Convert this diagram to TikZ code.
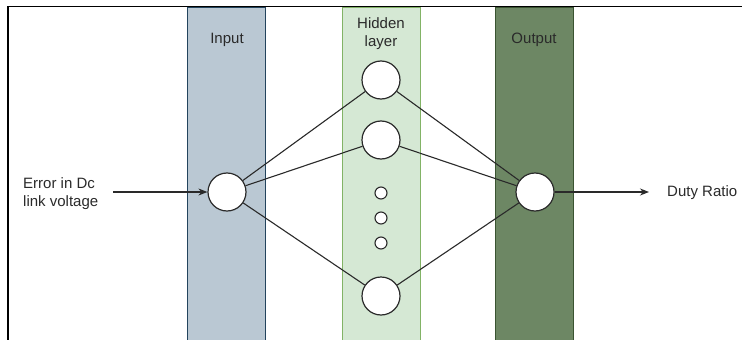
\documentclass[tikz,border=0pt]{standalone}
\usepackage{fontspec}
\setmainfont{Liberation Sans}
\usetikzlibrary{arrows.meta}
\definecolor{inFill}{HTML}{BAC8D3}
\definecolor{inLine}{HTML}{23445D}
\definecolor{hidFill}{HTML}{D5E8D4}
\definecolor{hidLine}{HTML}{82B366}
\definecolor{outFill}{HTML}{6D8764}
\definecolor{outLine}{HTML}{3A5431}
\definecolor{ink}{HTML}{2A2A2A}
\tikzset{
  band/.style={rectangle, minimum width=78pt, minimum height=333pt, inner sep=0pt, line width=0.8pt},
  neuron/.style={circle, draw=ink, fill=white, line width=1.2pt, minimum size=38pt, inner sep=0pt},
  dotneuron/.style={circle, draw=ink, fill=white, line width=1.1pt, minimum size=12pt, inner sep=0pt},
  link/.style={draw=ink, line width=1.1pt},
  arr/.style={draw=ink, line width=1.1pt, -{Stealth[length=9pt, width=7pt]}},
  lbl/.style={font=\fontsize{15}{18}\selectfont, text=ink, inner sep=0pt},
}
\begin{document}
\begin{tikzpicture}[x=1pt, y=-1pt]
\useasboundingbox (0,0) rectangle (742,340);
\fill[white] (0,0) rectangle (742,340);
% frame
\draw[black, line width=1.4pt] (8,340) -- (8,6.5) -- (742,6.5);
% bands
\node[band, fill=inFill, draw=inLine] (bin) at (226.5,173.5) {};
\node[band, fill=hidFill, draw=hidLine] (bhid) at (381.5,173.5) {};
\node[band, fill=outFill, draw=outLine] (bout) at (534.5,173.5) {};
% band labels
\node[lbl] (tin) at (227,40) {Input};
\node[lbl, align=center] (thid) at (381,34) {Hidden\\layer};
\node[lbl] (tout) at (534,40) {Output};
% neurons
\node[neuron] (i1) at (227,192) {};
\node[neuron] (h1) at (381,80) {};
\node[neuron] (h2) at (381,140) {};
\node[dotneuron] (d1) at (381,193) {};
\node[dotneuron] (d2) at (381,218) {};
\node[dotneuron] (d3) at (381,243) {};
\node[neuron] (h3) at (381,296) {};
\node[neuron] (o1) at (535,192) {};
% links
\draw[link] (i1) -- (h1);
\draw[link] (i1) -- (h2);
\draw[link] (i1) -- (h3);
\draw[link] (h1) -- (o1);
\draw[link] (h2) -- (o1);
\draw[link] (h3) -- (o1);
% input / output
\node[lbl, align=left, anchor=west] (err) at (23,194) {Error in Dc\\link voltage};
\coordinate (inStart) at (113,192);
\draw[arr] (inStart) -- (i1);
\coordinate (outEnd) at (649,192);
\draw[arr] (o1) -- (outEnd);
\node[lbl, anchor=west] (duty) at (667,193) {Duty Ratio};
\end{tikzpicture}
\end{document}
